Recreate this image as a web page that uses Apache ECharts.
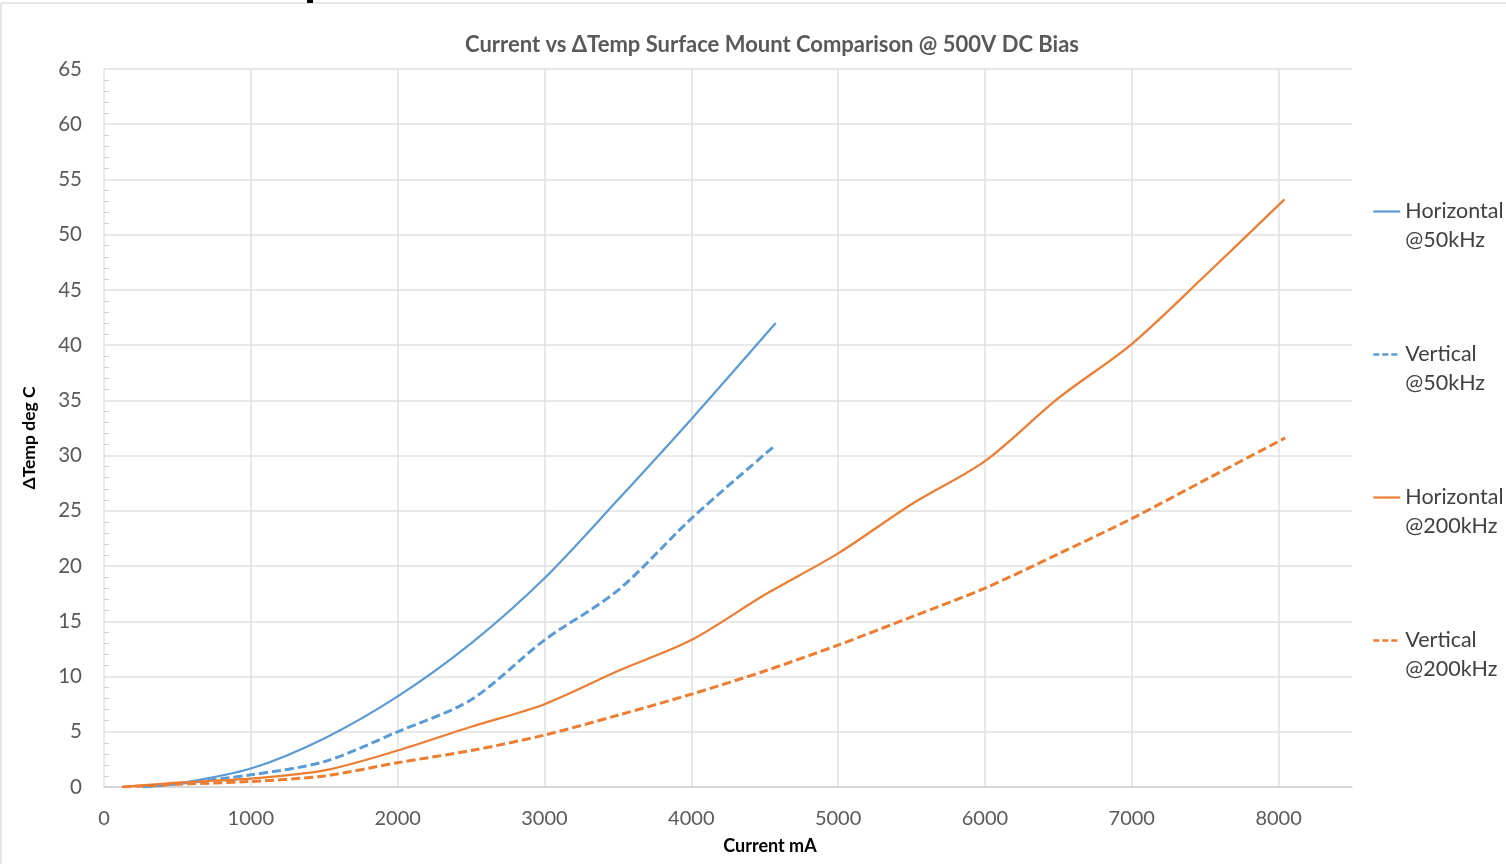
<!DOCTYPE html>
<html>
<head>
<meta charset="utf-8">
<script src="https://cdn.jsdelivr.net/npm/echarts@6/dist/echarts.min.js"></script>
<style>
html,body{margin:0;padding:0;background:#fff;}
#chart{width:1506px;height:864px;}
</style>
</head>
<body>
<div id="chart"></div>
<script>
// ---- data ----
const seriesNames = ['Horizontal\n@50kHz', 'Vertical\n@50kHz', 'Horizontal\n@200kHz', 'Vertical\n@200kHz'];

const h50Current = [265, 500, 1000, 1500, 2000, 2500, 3000, 3500, 4000, 4575];
const h50Temp    = [0, 0.3, 1.67, 4.4, 8.2, 13.0, 18.9, 26.0, 33.3, 42.0];

const v50Current = [265, 500, 1000, 1500, 2000, 2500, 3000, 3500, 4000, 4560];
const v50Temp    = [0, 0.3, 1.1, 2.3, 5.0, 7.9, 13.3, 17.8, 24.3, 30.8];

const h200Current = [125, 500, 1000, 1500, 2000, 2500, 3000, 3500, 4000, 4500, 5000, 5500, 6000, 6500, 7000, 7500, 8040];
const h200Temp    = [0, 0.4, 0.76, 1.5, 3.3, 5.45, 7.5, 10.5, 13.3, 17.4, 21.15, 25.6, 29.5, 35.2, 40.1, 46.3, 53.2];

const v200Current = [125, 500, 1000, 1500, 2000, 2500, 3000, 3500, 4000, 4500, 5000, 5500, 6000, 6500, 7000, 7500, 8045];
const v200Temp    = [0, 0.25, 0.5, 1.0, 2.2, 3.3, 4.7, 6.5, 8.4, 10.5, 12.85, 15.4, 18.0, 21.1, 24.3, 27.8, 31.6];

const title = 'Current vs ΔTemp Surface Mount Comparison @ 500V DC Bias';
const xName = 'Current mA';
const yName = 'ΔTemp deg C';

function pairs(xs, ys) { return xs.map((x, i) => [x, ys[i]]); }

const BLUE = '#5B9BD5', ORANGE = '#ED7D31';
const FONT = 'Lato, "Open Sans", sans-serif';

const chart = echarts.init(document.getElementById('chart'), null, {renderer: 'canvas'});

function mkSeries(name, xs, ys, color, dashed) {
  return {
    name: name,
    type: 'line',
    data: pairs(xs, ys),
    smooth: 0.3,
    symbol: 'none',
    lineStyle: {color: color, width: dashed ? 3 : 2.2, type: dashed ? [9, 4] : 'solid'},
    itemStyle: {color: color},
    animation: false
  };
}

chart.setOption({
  animation: false,
  backgroundColor: '#fff',
  textStyle: {fontFamily: FONT},
  title: {
    text: title,
    left: 767, top: 29, textAlign: 'center',
    textStyle: {fontFamily: FONT, fontSize: 22, fontWeight: 'bold', color: '#595959'}
  },
  grid: {left: 104, right: 154, top: 69, bottom: 77, containLabel: false},
  legend: {
    orient: 'vertical',
    left: 1367, top: 163,
    itemWidth: 27, itemHeight: 14, itemGap: 56,
    itemStyle: {color: 'transparent', borderWidth: 0, opacity: 0},
    formatter: function (name) { return '{s| }\n' + name; },
    textStyle: {fontFamily: FONT, fontSize: 21.5, color: '#404040', lineHeight: 29,
      rich: {s: {fontSize: 21.5, lineHeight: 29}}},
    data: [
      {name: seriesNames[0], lineStyle: {width: 2.2}},
      {name: seriesNames[1], lineStyle: {width: 2.6, type: [6, 3]}},
      {name: seriesNames[2], lineStyle: {width: 2.2}},
      {name: seriesNames[3], lineStyle: {width: 2.6, type: [6, 3]}}
    ]
  },
  xAxis: {
    type: 'value', min: 0, max: 8500, interval: 1000,
    name: xName, nameLocation: 'middle', nameGap: 50,
    nameTextStyle: {fontFamily: FONT, fontSize: 18, fontWeight: 'bold', color: '#000', padding: [0, 0, 0, 84]},
    axisLine: {show: true, lineStyle: {color: '#d0d0d0', width: 1.5}},
    axisTick: {show: false},
    axisLabel: {fontFamily: FONT, fontSize: 20, color: '#595959', margin: 22, showMaxLabel: false,
      formatter: function (v) { return String(v); }},
    splitLine: {show: true, showMaxLine: false, lineStyle: {color: '#e0e0e0', width: 1.5}}
  },
  yAxis: {
    type: 'value', min: 0, max: 65, interval: 5,
    name: yName, nameLocation: 'middle', nameGap: 66, nameRotate: 90,
    nameTextStyle: {fontFamily: FONT, fontSize: 17.5, fontWeight: 'bold', color: '#000', padding: [0, 0, 0, -20]},
    axisLine: {show: false},
    axisTick: {show: false, inside: true},
    minorTick: {show: true, splitNumber: 5, length: 5, lineStyle: {color: '#d0d0d0', width: 1}},
    axisLabel: {fontFamily: FONT, fontSize: 20.5, color: '#595959', margin: 22},
    splitLine: {show: true, lineStyle: {color: '#e0e0e0', width: 1.5}}
  },
  graphic: [
    {type: 'rect', shape: {x: 1, y: 3, width: 1510, height: 870}, style: {fill: 'none', stroke: '#d0d0d0', lineWidth: 1}, z: 100, silent: true},
    {type: 'rect', shape: {x: 307, y: 0, width: 6, height: 3}, style: {fill: '#000'}, z: 101, silent: true}
  ],
  series: [
    mkSeries(seriesNames[0], h50Current, h50Temp, BLUE, false),
    mkSeries(seriesNames[1], v50Current, v50Temp, BLUE, true),
    mkSeries(seriesNames[2], h200Current, h200Temp, ORANGE, false),
    mkSeries(seriesNames[3], v200Current, v200Temp, ORANGE, true)
  ]
});
</script>
</body>
</html>
